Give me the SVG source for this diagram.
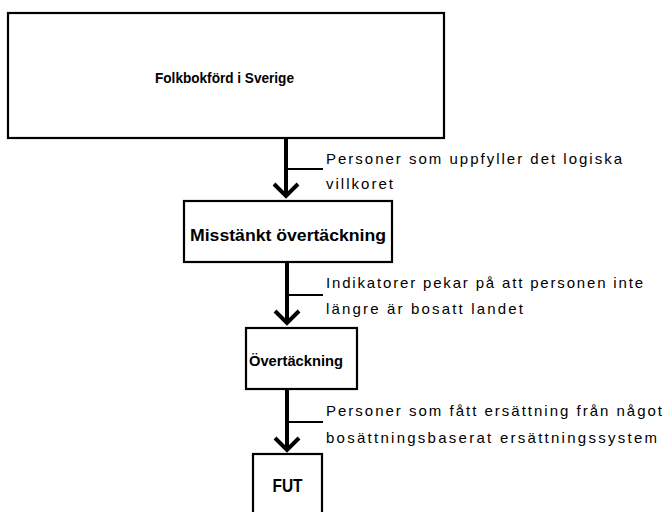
<svg xmlns="http://www.w3.org/2000/svg" width="666" height="512" viewBox="0 0 666 512">
  <defs>
    <style>
      .box { fill: #ffffff; stroke: #000000; stroke-width: 2.2; }
      .node-text { font-family: "Liberation Sans", Arial, sans-serif; font-weight: bold; fill: #000000; text-anchor: middle; }
      .label { font-family: "Liberation Sans", Arial, sans-serif; font-size: 15px; fill: #000000; }
      .shaft { stroke: #000000; stroke-width: 4; fill: none; }
      .leader { stroke: #000000; stroke-width: 2; fill: none; }
      .chev { stroke: #000000; stroke-width: 4; fill: none; stroke-linejoin: miter; }
    </style>
    <marker id="chevron" markerUnits="userSpaceOnUse" viewBox="-16 -16 20 32" refX="0" refY="0" markerWidth="20" markerHeight="32" orient="auto">
      <polyline class="chev" points="-12,-12 0,0 -12,12"/>
    </marker>
  </defs>

  <g id="node-folkbokford">
    <rect class="box" x="8" y="13" width="436" height="125"/>
    <text class="node-text" x="224.5" y="83" font-size="15" textLength="139" lengthAdjust="spacingAndGlyphs">Folkbokförd i Sverige</text>
  </g>

  <g id="node-misstankt">
    <rect class="box" x="184" y="201" width="208" height="61"/>
    <text class="node-text" x="288" y="241" font-size="16" textLength="196" lengthAdjust="spacingAndGlyphs">Misstänkt övertäckning</text>
  </g>

  <g id="node-overtackning">
    <rect class="box" x="246" y="328" width="111" height="61"/>
    <text class="node-text" x="296" y="366" font-size="15.5" textLength="94" lengthAdjust="spacingAndGlyphs">Övertäckning</text>
  </g>

  <g id="node-fut">
    <rect class="box" x="253" y="454" width="69" height="70"/>
    <text class="node-text" x="287.5" y="492" font-size="17.5" textLength="30" lengthAdjust="spacingAndGlyphs">FUT</text>
  </g>

  <g id="connectors">
    <line class="shaft" x1="286" y1="139" x2="286" y2="196" marker-end="url(#chevron)"/>
    <line class="leader" x1="286" y1="169" x2="323" y2="169"/>
    <line class="shaft" x1="287" y1="263" x2="287" y2="323" marker-end="url(#chevron)"/>
    <line class="leader" x1="287" y1="295" x2="323" y2="295"/>
    <line class="shaft" x1="287" y1="390" x2="287" y2="450" marker-end="url(#chevron)"/>
    <line class="leader" x1="287" y1="422" x2="323" y2="422"/>
  </g>

  <g id="labels">
    <text class="label" x="326" y="164" textLength="296" lengthAdjust="spacing">Personer som uppfyller det logiska</text>
    <text class="label" x="326" y="189" textLength="67" lengthAdjust="spacing">villkoret</text>
    <text class="label" x="326" y="288" textLength="317" lengthAdjust="spacing">Indikatorer pekar på att personen inte</text>
    <text class="label" x="326" y="314" textLength="197" lengthAdjust="spacing">längre är bosatt landet</text>
    <text class="label" x="326" y="416" textLength="336" lengthAdjust="spacing">Personer som fått ersättning från något</text>
    <text class="label" x="326" y="443" textLength="331" lengthAdjust="spacing">bosättningsbaserat ersättningssystem</text>
  </g>
</svg>
